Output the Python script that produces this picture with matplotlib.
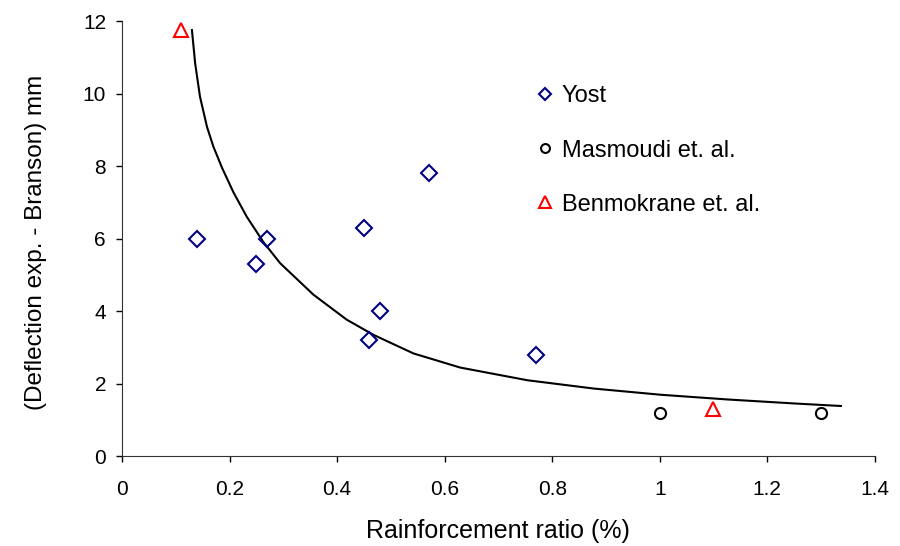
import matplotlib
matplotlib.use("Agg")
import matplotlib.pyplot as plt

plt.rcParams['font.family'] = ['Liberation Sans', 'DejaVu Sans']

# data
yost_x = [0.14, 0.25, 0.27, 0.45, 0.57, 0.48, 0.46, 0.77]
yost_y = [6.0, 5.3, 6.0, 6.3, 7.8, 4.0, 3.2, 2.8]
masmoudi_x = [1.0, 1.3]
masmoudi_y = [1.2, 1.2]
benmokrane_x = [0.11, 1.1]
benmokrane_y = [11.75, 1.3]

# trend curve, points
curve_x = [0.130, 0.136, 0.145, 0.158, 0.170, 0.186, 0.207, 0.232, 0.263, 0.294,
           0.356, 0.418, 0.468, 0.542, 0.629, 0.754, 0.878, 1.002, 1.126,
           1.250, 1.337]
curve_y = [11.75, 10.83, 9.91, 9.08, 8.53, 7.95, 7.28, 6.60, 5.90, 5.32,
           4.45, 3.76, 3.34, 2.83, 2.44, 2.09, 1.86, 1.69, 1.56,
           1.45, 1.38]

fig = plt.figure(figsize=(9, 5.46), dpi=100)
ax = fig.add_axes([0.1356, 0.1648, 0.8364, 0.7967])

ax.plot(curve_x, curve_y, color='black', lw=1.5, zorder=2)
ax.plot(yost_x, yost_y, 'D', ls='none', ms=8, mfc='none', mec='#000080', mew=1.5,
        label='Yost', zorder=3)
ax.plot(masmoudi_x, masmoudi_y, 'o', ls='none', ms=8, mfc='none', mec='black', mew=1.5,
        label='Masmoudi et. al.', zorder=3)
ax.plot(benmokrane_x, benmokrane_y, '^', ls='none', ms=10, mfc='none', mec='red', mew=1.5,
        label='Benmokrane et. al.', zorder=3)

ax.set_xlim(0, 1.4)
ax.set_ylim(0, 12)
ax.set_xticks([0, 0.2, 0.4, 0.6, 0.8, 1, 1.2, 1.4])
ax.set_xticklabels(['0', '0.2', '0.4', '0.6', '0.8', '1', '1.2', '1.4'])
ax.set_yticks([0, 2, 4, 6, 8, 10, 12])
ax.tick_params(direction='out', length=4.5, width=1, labelsize=15, colors='black')
ax.tick_params(axis='x', pad=13)
ax.tick_params(axis='y', pad=7)
ax.spines['top'].set_visible(False)
ax.spines['right'].set_visible(False)
for s in ['left', 'bottom']:
    ax.spines[s].set_color('#333333')

ax.set_xlabel('Rainforcement ratio (%)', fontsize=18)
ax.set_ylabel('(Deflection exp. - Branson) mm', fontsize=17.5)
ax.xaxis.set_label_coords(0.5, -0.145)
ax.yaxis.set_label_coords(-0.10, 0.49)

ax.legend(loc='upper left', bbox_to_anchor=(0.549, 0.852), frameon=False, fontsize=17,
          borderpad=0, borderaxespad=0, handlelength=0.8, handletextpad=0.32,
          labelspacing=1.36, markerscale=0.8)

fig.savefig('out.png', dpi=100)
